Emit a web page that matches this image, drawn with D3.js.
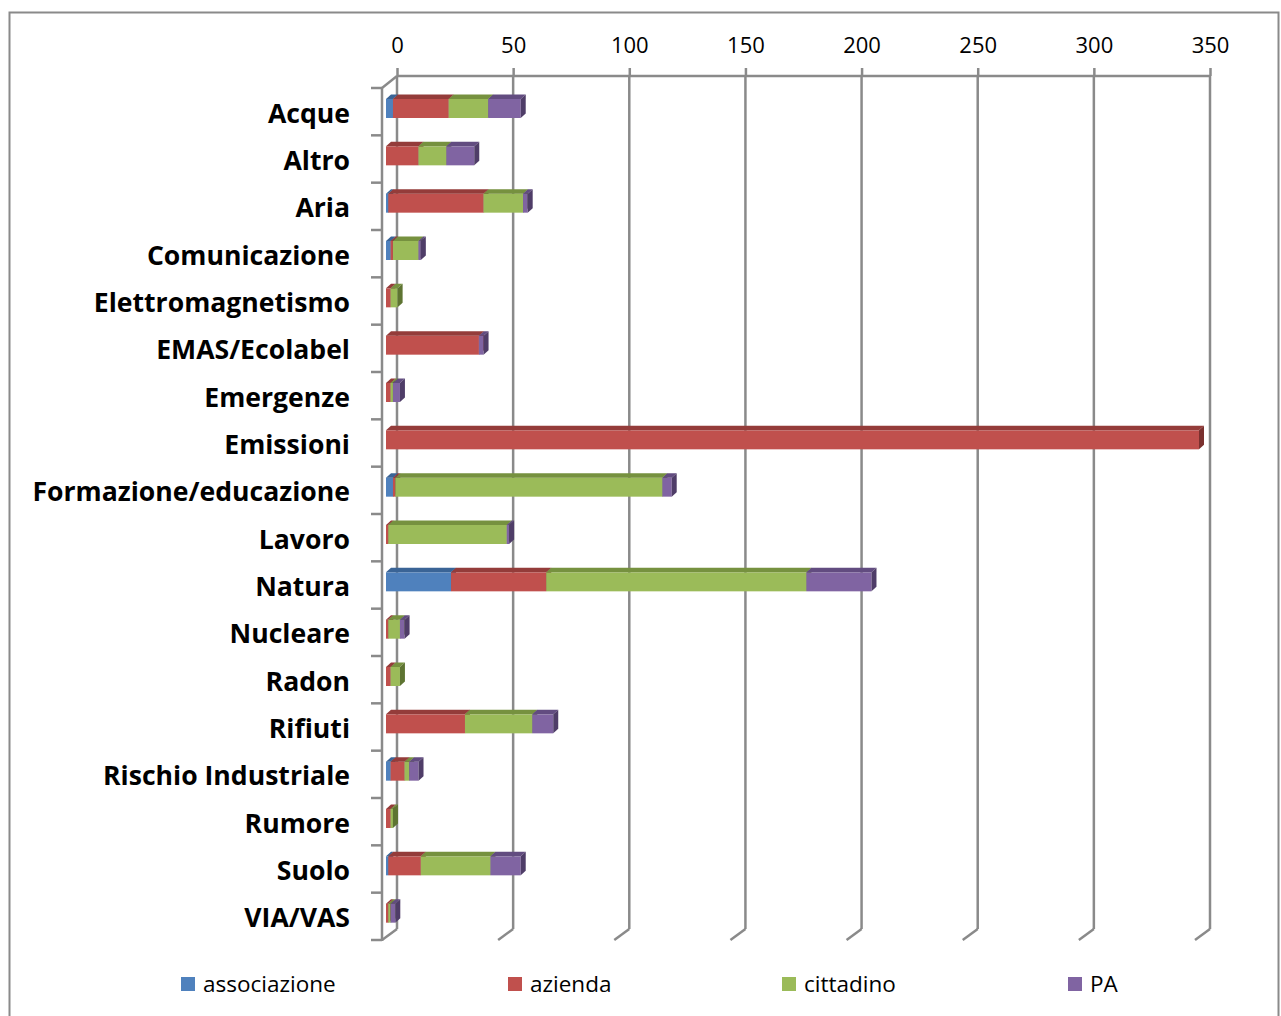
<!DOCTYPE html>
<html><head><meta charset="utf-8">
<script src="https://cdn.jsdelivr.net/npm/d3@7"></script>
<style>body{margin:0;background:#fff}svg{display:block}</style>
</head><body>
<script>
const categories = ["Acque","Altro","Aria","Comunicazione","Elettromagnetismo","EMAS/Ecolabel","Emergenze","Emissioni","Formazione/educazione","Lavoro","Natura","Nucleare","Radon","Rifiuti","Rischio Industriale","Rumore","Suolo","VIA/VAS"];
const associazione = [3,0,1,2,0,0,0,0,3,0,28,0,0,0,2,0,1,0];
const azienda      = [24,14,41,1,2,40,2,350,1,1,41,1,2,34,6,2,14,1];
const cittadino    = [17,12,17,11,3,0,1,0,115,51,112,5,4,29,2,1,30,1];
const PA           = [14,12,2,1,0,2,3,0,4,1,28,2,0,9,4,0,13,2];
const seriesNames = ["associazione","azienda","cittadino","PA"];
const tickValues = [0,50,100,150,200,250,300,350];

const front = ["#4F81BD","#C0504D","#9BBB59","#8064A2"];
const topC  = ["#3A6496","#943C3A","#76913F","#624C80"];
const sideC = ["#2F5079","#7A302E","#5E7432","#4F3D68"];

const W = 1281, H = 1016;
const svg = d3.select("body").append("svg").attr("width", W).attr("height", H);
const FONT = "'Open Sans', 'DejaVu Sans', sans-serif";
const GRID = "#8a8a8a";

// border
svg.append("rect").attr("x",9.5).attr("y",12.5).attr("width",1269).attr("height",1030)
  .attr("fill","none").attr("stroke","#8a8a8a").attr("stroke-width",2);

const x = d3.scaleLinear().domain([0,350]).range([397,1210]);
const y = d3.scaleBand().domain(categories).range([88,940]).padding(0);
const depthX = 15, depthY = 11;   // floor depth offset
const bx = 11;                    // bar front plane offset
const gTop = 76, gBot = 929;

// gridlines on back wall and floor stubs
const grid = svg.append("g");
tickValues.forEach(t => {
  grid.append("line").attr("x1",x(t)).attr("x2",x(t)).attr("y1",gTop).attr("y2",gBot)
    .attr("stroke",GRID).attr("stroke-width",2.5);
  grid.append("line").attr("x1",x(t)).attr("x2",x(t)-depthX).attr("y1",gBot).attr("y2",gBot+depthY)
    .attr("stroke",GRID).attr("stroke-width",2.5);
});
// top axis line
grid.append("line").attr("x1",x(0)).attr("x2",x(350)).attr("y1",gTop).attr("y2",gTop)
  .attr("stroke",GRID).attr("stroke-width",2.5);
// left wall edge
grid.append("line").attr("x1",x(0)).attr("x2",x(0)-depthX).attr("y1",gTop).attr("y2",88)
  .attr("stroke",GRID).attr("stroke-width",2.5);
grid.append("line").attr("x1",x(0)-depthX).attr("x2",x(0)-depthX).attr("y1",88).attr("y2",941)
  .attr("stroke",GRID).attr("stroke-width",2.5);
// category ticks
const bounds = categories.map(c => y(c)).concat([940]);
bounds.forEach(b => {
  grid.append("line").attr("x1",371).attr("x2",x(0)-depthX).attr("y1",b).attr("y2",b)
    .attr("stroke",GRID).attr("stroke-width",2.5);
});

// top axis with labels
const axis = d3.axisTop(x).tickValues(tickValues).tickSize(8).tickPadding(15).tickFormat(d3.format("d"));
const ag = svg.append("g").attr("transform",`translate(0,${gTop})`).call(axis);
ag.select(".domain").remove();
ag.selectAll(".tick line").attr("stroke",GRID).attr("stroke-width",2.5);
ag.selectAll(".tick text").attr("font-family",FONT).attr("font-size",22).attr("fill","#000");

// stacked bars
const data = categories.map((c,i)=>({cat:c, v:[associazione[i],azienda[i],cittadino[i],PA[i]]}));
const stack = d3.stack().keys([0,1,2,3]).value((d,k)=>d.v[k])(data);
const dx = 5, dy = 4.5, fh = 19, off = 11;
const bars = svg.append("g");
data.forEach((d,i) => {
  const y0 = y(d.cat) + off;
  for (let k=0;k<4;k++){
    const s = stack[k][i];
    if (s[1]-s[0] <= 0) continue;
    const x0 = x(s[0]) - bx, x1 = x(s[1]) - bx;
    bars.append("rect").attr("x",x0).attr("y",y0).attr("width",x1-x0).attr("height",fh).attr("fill",front[k]);
    bars.append("path").attr("d",`M${x0},${y0}L${x0+dx},${y0-dy}L${x1+dx},${y0-dy}L${x1},${y0}Z`).attr("fill",topC[k]);
    bars.append("path").attr("d",`M${x1},${y0}L${x1+dx},${y0-dy}L${x1+dx},${y0+fh-dy}L${x1},${y0+fh}Z`).attr("fill",sideC[k]);
  }
});

// category labels
svg.append("g").selectAll("text").data(categories).join("text")
  .attr("x",350).attr("y",c=>y(c)+y.bandwidth()/2+11)
  .attr("text-anchor","end").attr("font-family",FONT).attr("font-weight","bold")
  .attr("font-size",26.6).attr("fill","#000").text(c=>c);

// legend
const legX = [181,508,782,1068];
const lg = svg.append("g");
seriesNames.forEach((n,k)=>{
  lg.append("rect").attr("x",legX[k]).attr("y",977).attr("width",14).attr("height",14).attr("fill",front[k]);
  lg.append("text").attr("x",legX[k]+22).attr("y",992).attr("font-family",FONT).attr("font-size",22.5).attr("fill","#000").text(n);
});
</script>
</body></html>
